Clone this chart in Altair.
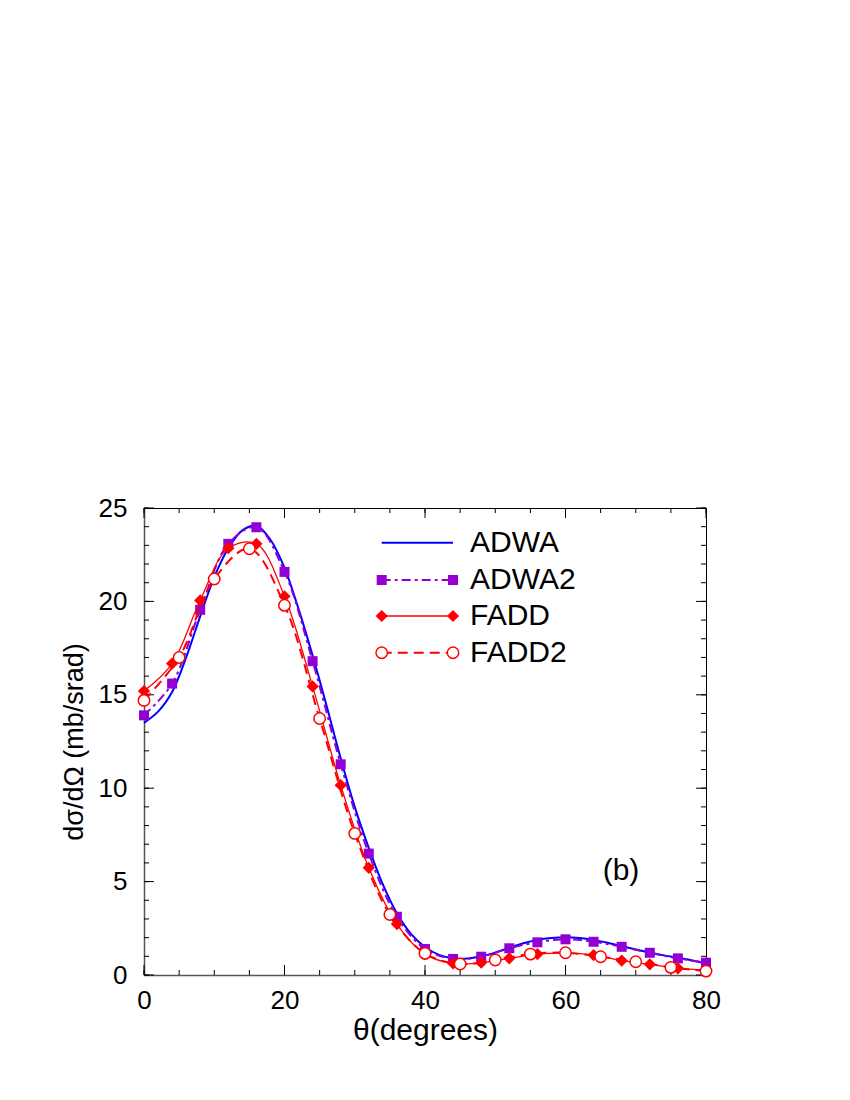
import altair as alt
import pandas as pd

# ---- data ----
theta_adwa = [0, 2, 4, 6, 8, 10, 12, 14, 16, 18, 20, 22, 24, 26, 28, 30, 32, 34, 36, 38,
              40, 42, 44, 46, 48, 50, 52, 54, 56, 58, 60, 62, 64, 66, 68, 70, 72, 74, 76, 78, 80]
adwa = [13.5, 14.1, 15.15, 17.0, 19.2, 21.3, 22.85, 23.8, 24.05, 23.3, 21.8, 19.6, 17.1, 14.4,
        11.6, 9.0, 6.8, 4.85, 3.3, 2.2, 1.5, 1.08, 0.9, 0.88, 1.0, 1.2, 1.45, 1.7, 1.88, 1.98,
        2.02, 1.98, 1.88, 1.73, 1.55, 1.37, 1.2, 1.05, 0.92, 0.78, 0.62]

theta_4 = [0, 4, 8, 12, 16, 20, 24, 28, 32, 36, 40, 44, 48, 52, 56, 60, 64, 68, 72, 76, 80]
adwa2 = [13.9, 15.6, 19.55, 23.08, 23.97, 21.58, 16.8, 11.28, 6.5, 3.12, 1.39, 0.86, 0.98,
         1.43, 1.75, 1.91, 1.78, 1.51, 1.19, 0.89, 0.66]
fadd = [15.2, 16.67, 20.05, 22.85, 23.08, 20.27, 15.45, 10.16, 5.74, 2.73, 1.12, 0.62, 0.66,
        0.89, 1.12, 1.17, 1.07, 0.77, 0.57, 0.36, 0.28]

theta_5 = [0, 5, 10, 15, 20, 25, 30, 35, 40, 45, 50, 55, 60, 65, 70, 75, 80]
fadd2 = [14.7, 17.0, 21.2, 22.82, 19.79, 13.73, 7.58, 3.24, 1.16, 0.59, 0.80, 1.12, 1.19,
         0.98, 0.71, 0.41, 0.21]

series_names = ["ADWA", "ADWA2", "FADD", "FADD2"]
panel_label = "(b)"

x_major = [0, 20, 40, 60, 80]
x_minor = [0, 5, 10, 15, 20, 25, 30, 35, 40, 45, 50, 55, 60, 65, 70, 75, 80]
y_major = [0, 5, 10, 15, 20, 25]
y_minor = list(range(0, 26))

# ---- styles ----
BLUE = "#0000ff"
PURPLE = "#9400d3"
RED = "#ff0000"
FONT = "Liberation Sans"
W, H = 562, 467
FS = 26      # tick labels
FTX = 30     # x title
FTY = 27     # y title
FL = 30      # legend / panel label

df_adwa = pd.DataFrame({"theta": theta_adwa, "val": adwa})
df_adwa2 = pd.DataFrame({"theta": theta_4, "val": adwa2})
df_fadd = pd.DataFrame({"theta": theta_4, "val": fadd})
df_fadd2 = pd.DataFrame({"theta": theta_5, "val": fadd2})

xscale = alt.Scale(domain=[0, 80], nice=False, zero=False)
yscale = alt.Scale(domain=[0, 25], nice=False, zero=False)

X = alt.X("theta:Q", scale=xscale,
          axis=alt.Axis(values=x_major, title="θ(degrees)", grid=False, ticks=False,
                        labelFontSize=FS, labelFont=FONT, labelColor="black",
                        labelBaseline="top", labelPadding=12, labelFlush=False,
                        domainColor="#555555", domainWidth=1.5,
                        titleFontSize=FTX, titleFont=FONT, titleFontWeight="normal",
                        titleColor="black", titleBaseline="alphabetic",
                        titleY=64, titleX=W / 2))
Y = alt.Y("val:Q", scale=yscale,
          axis=alt.Axis(values=y_major, title="dσ/dΩ (mb/srad)", grid=False, ticks=False,
                        labelFontSize=FS, labelFont=FONT, labelColor="black",
                        labelPadding=17, labelFlush=False,
                        domainColor="#555555", domainWidth=1.5,
                        titleFontSize=FTY, titleFont=FONT, titleFontWeight="normal",
                        titleColor="black", titleAngle=270, titleBaseline="alphabetic",
                        titleAlign="center", titleX=-62, titleY=H / 2))

line_adwa = alt.Chart(df_adwa).mark_line(color=BLUE, strokeWidth=2,
                                         interpolate="catmull-rom").encode(x=X, y=Y)
line_adwa2 = alt.Chart(df_adwa2).mark_line(color=PURPLE, strokeWidth=2, strokeDash=[9, 4, 3, 4],
                                           interpolate="catmull-rom").encode(x=X, y=Y)
pts_adwa2 = alt.Chart(df_adwa2).mark_point(shape="square", filled=True, color=PURPLE,
                                           size=100, opacity=1).encode(x=X, y=Y)
line_fadd = alt.Chart(df_fadd).mark_line(color=RED, strokeWidth=1.3,
                                         interpolate="catmull-rom").encode(x=X, y=Y)
pts_fadd = alt.Chart(df_fadd).mark_point(shape="diamond", filled=True, color=RED,
                                         size=150, opacity=1).encode(x=X, y=Y)
line_fadd2 = alt.Chart(df_fadd2).mark_line(color=RED, strokeWidth=2, strokeDash=[10, 6],
                                           interpolate="catmull-rom").encode(x=X, y=Y)
pts_fadd2 = alt.Chart(df_fadd2).mark_point(shape="circle", filled=True, fill="white",
                                           stroke=RED, strokeWidth=1.5, size=130,
                                           opacity=1).encode(x=X, y=Y)

# ---- inward ticks on all four sides ----
def xticks(vals, length):
    d = pd.DataFrame({"theta": vals})
    b = alt.Chart(d).mark_rule(color="black", strokeWidth=1).encode(
        x=X, y=alt.value(H), y2=alt.value(H - length))
    t = alt.Chart(d).mark_rule(color="black", strokeWidth=1).encode(
        x=X, y=alt.value(0), y2=alt.value(length))
    return [b, t]


def yticks(vals, length):
    d = pd.DataFrame({"val": vals})
    l = alt.Chart(d).mark_rule(color="black", strokeWidth=1).encode(
        y=Y, x=alt.value(0), x2=alt.value(length))
    r = alt.Chart(d).mark_rule(color="black", strokeWidth=1).encode(
        y=Y, x=alt.value(W), x2=alt.value(W - length))
    return [l, r]


ticks = xticks(x_minor, 5) + xticks(x_major, 10) + yticks(y_minor, 5) + yticks(y_major, 10)

# ---- legend ----
leg_rows = [34.7, 72, 108, 144.7]
lx0, lx1, ltx = 237.7, 309, 326
leg_styles = [
    dict(color=BLUE, strokeWidth=2),
    dict(color=PURPLE, strokeWidth=2, strokeDash=[9, 4, 3, 4]),
    dict(color=RED, strokeWidth=1.3),
    dict(color=RED, strokeWidth=2, strokeDash=[10, 6]),
]
leg_marks = [
    None,
    dict(shape="square", filled=True, color=PURPLE, size=100, opacity=1),
    dict(shape="diamond", filled=True, color=RED, size=150, opacity=1),
    dict(shape="circle", filled=True, fill="white", stroke=RED, strokeWidth=1.5, size=130, opacity=1),
]
legend_layers = []
for name, ry, st, mk in zip(series_names, leg_rows, leg_styles, leg_marks):
    d = pd.DataFrame({"name": [name]})
    legend_layers.append(alt.Chart(d).mark_rule(**st).encode(
        x=alt.value(lx0), x2=alt.value(lx1), y=alt.value(ry)))
    if mk is not None:
        for px in (lx0, lx1):
            legend_layers.append(alt.Chart(d).mark_point(**mk).encode(
                x=alt.value(px), y=alt.value(ry)))
    legend_layers.append(alt.Chart(d).mark_text(
        align="left", baseline="middle", fontSize=FL, font=FONT, color="black").encode(
        x=alt.value(ltx), y=alt.value(ry), text="name:N"))

lab = alt.Chart(pd.DataFrame({"t": [panel_label]})).mark_text(
    align="center", baseline="middle", fontSize=FL, font=FONT, color="black").encode(
    x=alt.value(477), y=alt.value(363), text="t:N")

chart = alt.layer(
    line_adwa, *ticks, line_adwa2, pts_adwa2, line_fadd, pts_fadd, line_fadd2, pts_fadd2,
    *legend_layers, lab
).properties(
    width=W, height=H,
    padding={"left": 136, "top": 500, "right": 120, "bottom": 100},
    autosize=alt.AutoSizeParams(type="none"),
    background="white",
).configure_view(stroke="black", strokeWidth=1)

chart.save("out.html", embed_options={"renderer": "svg", "actions": False})
